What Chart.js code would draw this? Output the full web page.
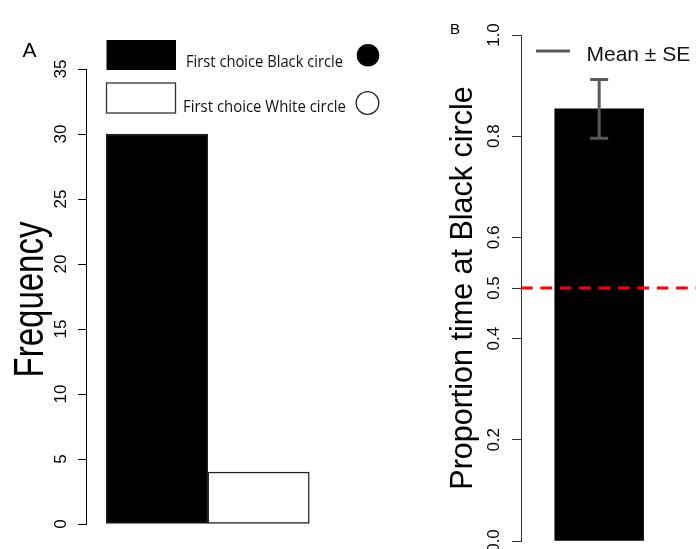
<!DOCTYPE html>
<html><head><meta charset="utf-8">
<script src="https://cdn.jsdelivr.net/npm/chart.js@4.4.1/dist/chart.umd.min.js"></script>
<style>
html,body{margin:0;padding:0;background:#fff;}
#wrap{position:relative;width:696px;height:549px;overflow:hidden;background:#fff;}
canvas{position:absolute;left:0;top:0;}
</style></head><body>
<div id="wrap">
<canvas id="cA" width="696" height="549"></canvas>
<canvas id="cB" width="696" height="549"></canvas>
</div>
<script>
// ---------- Panel A data ----------
const choiceCategories = ['First choice Black circle', 'First choice White circle'];
const choiceFrequency = [30, 4];
const freqTicks = [0, 5, 10, 15, 20, 25, 30, 35];
const freqTitle = 'Frequency';
// ---------- Panel B data ----------
const propCategories = ['Black circle'];
const propMean = [0.854];
const propSE = [0.058];
const propTicks = [0, 0.2, 0.4, 0.5, 0.6, 0.8, 1.0];
const chanceLevel = 0.5;
const propTitle = 'Proportion time at Black circle';
const legendBText = 'Mean \u00B1 SE';
const panelLabels = ['A', 'B'];

const FONT = "'Liberation Sans', Arial, Helvetica, sans-serif";
Chart.defaults.font.family = FONT;
Chart.defaults.animation = false;

const barFill = ['#000000', '#ffffff'];
const ERR_COL = '#5a5a5a';

// ---------- Panel A ----------
const panelAPlugin = {
  id: 'panelA',
  afterDraw(chart) {
    const ctx = chart.ctx;
    ctx.save();
    ctx.fillStyle = '#000';
    ctx.textBaseline = 'alphabetic';
    // panel letter
    ctx.font = '21px ' + FONT;
    ctx.textAlign = 'left';
    ctx.fillText(panelLabels[0], 22.5, 56.5);
    // axis title (stretched like the original)
    const yS = chart.scales.y;
    const cy = (yS.top + yS.bottom) / 2 + 3;
    ctx.save();
    ctx.translate(43, cy);
    ctx.rotate(-Math.PI / 2);
    ctx.scale(1, 1.27);
    ctx.font = '33px ' + FONT;
    ctx.textAlign = 'center';
    ctx.fillText(freqTitle, 0, 0);
    ctx.restore();
    // legend
    const rows = [{y: 40, ty: 66.5, cx: 368, cy: 55.3, tx: 186, tw: 157},
                  {y: 83, ty: 111.5, cx: 367.5, cy: 103, tx: 183, tw: 163}];
    rows.forEach((r, i) => {
      ctx.fillStyle = barFill[i];
      ctx.fillRect(106.5, r.y, 69.5, 30);
      if (i === 1) { ctx.strokeStyle = '#333'; ctx.lineWidth = 1.3; ctx.strokeRect(106.5, r.y, 69, 30); }
      ctx.fillStyle = '#111';
      ctx.font = '16.5px "Open Sans", sans-serif';
      ctx.textAlign = 'left';
      ctx.fillText(choiceCategories[i], r.tx, r.ty, r.tw);
      ctx.beginPath();
      ctx.arc(r.cx, r.cy, 11.3, 0, Math.PI * 2);
      ctx.fillStyle = barFill[i];
      ctx.fill();
      if (i === 1) { ctx.strokeStyle = '#222'; ctx.lineWidth = 1.3; ctx.stroke(); }
    });
    ctx.restore();
  }
};

new Chart(document.getElementById('cA'), {
  type: 'bar',
  data: {
    datasets: [{
      data: choiceFrequency.map((v, i) => ({x: i + 0.5, y: v})),
      backgroundColor: barFill,
      borderColor: '#222',
      borderWidth: 1.5,
      borderSkipped: false,
      barPercentage: 1,
      categoryPercentage: 1
    }]
  },
  options: {
    responsive: false,
    animation: false,
    layout: {padding: {left: 0, top: 69, right: 696 - 329.6, bottom: 549 - 524}},
    plugins: {legend: {display: false}, tooltip: {enabled: false}},
    scales: {
      x: {
        type: 'linear', min: -0.2, max: 2.2, offset: false, display: false,
        afterBuildTicks: s => { s.ticks = [{value: 0}, {value: 1}, {value: 2}]; }
      },
      y: {
        min: 0, max: 35,
        afterBuildTicks: s => { s.ticks = freqTicks.map(v => ({value: v})); },
        afterFit: s => { s.width = 86; s.paddingTop = 0; s.paddingBottom = 0; },
        border: {display: true, color: '#000', width: 1},
        grid: {drawOnChartArea: false, drawTicks: true, tickLength: 8, tickColor: '#000', tickWidth: 1},
        ticks: {minRotation: 90, maxRotation: 90, crossAlign: 'center', padding: 7.5, color: '#000', font: {size: 17}}
      }
    }
  },
  plugins: [panelAPlugin]
});

// ---------- Panel B ----------
const xMinB = -0.18, xMaxB = 1.79;
const panelBPlugin = {
  id: 'panelB',
  afterDatasetsDraw(chart) {
    const ctx = chart.ctx;
    const xS = chart.scales.x, yS = chart.scales.y;
    ctx.save();
    ctx.strokeStyle = ERR_COL;
    ctx.lineWidth = 3;
    propMean.forEach((m, i) => {
      const px = xS.getPixelForValue(i + 0.7);
      const yTop = yS.getPixelForValue(m + propSE[i]);
      const yBot = yS.getPixelForValue(m - propSE[i]);
      ctx.beginPath();
      ctx.moveTo(px, yTop); ctx.lineTo(px, yBot);
      ctx.moveTo(px - 9, yTop); ctx.lineTo(px + 9, yTop);
      ctx.moveTo(px - 9, yBot); ctx.lineTo(px + 9, yBot);
      ctx.stroke();
    });
    ctx.restore();
  },
  afterDraw(chart) {
    const ctx = chart.ctx;
    const yS = chart.scales.y;
    ctx.save();
    ctx.fillStyle = '#000';
    ctx.textBaseline = 'alphabetic';
    ctx.font = '15px ' + FONT;
    ctx.textAlign = 'left';
    ctx.fillText(panelLabels[1], 450, 34);
    // axis title
    ctx.save();
    ctx.translate(471.5, (yS.top + yS.bottom) / 2);
    ctx.rotate(-Math.PI / 2);
    ctx.font = '30.5px ' + FONT;
    ctx.textAlign = 'center';
    ctx.fillText(propTitle, 0, 0);
    ctx.restore();
    // legend
    ctx.strokeStyle = ERR_COL;
    ctx.lineWidth = 3;
    ctx.beginPath();
    ctx.moveTo(536, 51); ctx.lineTo(570, 51);
    ctx.stroke();
    ctx.fillStyle = '#111';
    ctx.font = '21px ' + FONT;
    ctx.fillText(legendBText, 586.5, 60.5);
    ctx.restore();
  }
};

new Chart(document.getElementById('cB'), {
  type: 'bar',
  data: {
    datasets: [
      {
        type: 'line',
        data: [{x: xMinB, y: chanceLevel}, {x: xMaxB, y: chanceLevel}],
        borderColor: '#ff0000', borderWidth: 3, borderDash: [11.6, 7.8],
        pointRadius: 0, order: 0
      },
      {
        data: propMean.map((v, i) => ({x: i + 0.7, y: v})),
        backgroundColor: '#000000', borderWidth: 0,
        barPercentage: 1, categoryPercentage: 1, order: 1
      }
    ]
  },
  options: {
    responsive: false,
    animation: false,
    layout: {padding: {left: 0, top: 35, right: 0, bottom: 549 - 541}},
    plugins: {legend: {display: false}, tooltip: {enabled: false}},
    scales: {
      x: {
        type: 'linear', min: xMinB, max: xMaxB, offset: false, display: false,
        afterBuildTicks: s => { s.ticks = [{value: 0}, {value: 1}]; }
      },
      y: {
        min: 0, max: 1,
        afterBuildTicks: s => { s.ticks = propTicks.map(v => ({value: v})); },
        afterFit: s => { s.width = 521; s.paddingTop = 0; s.paddingBottom = 0; },
        border: {display: true, color: '#333', width: 1},
        grid: {drawOnChartArea: false, drawTicks: true, tickLength: 9, tickColor: '#333', tickWidth: 1},
        ticks: {minRotation: 90, maxRotation: 90, crossAlign: 'center', padding: 5.5, color: '#000', font: {size: 17},
                callback: v => Number(v).toFixed(1)}
      }
    }
  },
  plugins: [panelBPlugin]
});
</script>
</body></html>
